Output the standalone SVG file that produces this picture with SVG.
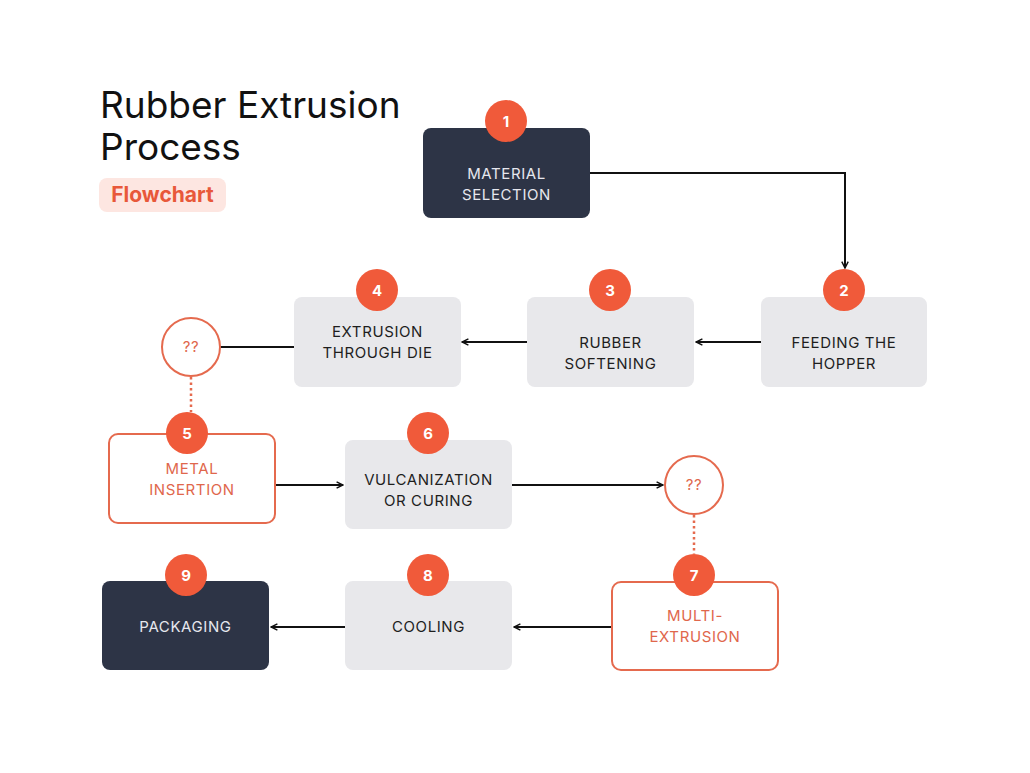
<svg xmlns="http://www.w3.org/2000/svg" width="1030" height="773" viewBox="0 0 1030 773">
<defs>
<marker id="arr" viewBox="0 0 10 10" refX="9" refY="5" markerWidth="8" markerHeight="8" markerUnits="userSpaceOnUse" orient="auto">
<path d="M1,1 L9,5 L1,9" fill="none" stroke="#111" stroke-width="1.8"/>
</marker>
</defs>
<style>
.dark{fill:#2d3446}
.light{fill:#e8e8eb}
.out{fill:#fff;stroke:#e56a4e;stroke-width:2}
.badge{fill:#f05a3a}
.bt{font-family:Inter,"Liberation Sans",sans-serif;font-weight:700;font-size:15px;fill:#fff;text-anchor:middle}
.lbl{font-family:Inter,"Liberation Sans",sans-serif;font-size:15px;letter-spacing:0.6px;text-anchor:middle}
.ld{fill:#e6e7ee}
.ll{fill:#1e1e1e}
.lo{fill:#e0674c}
.c{fill:none;stroke:#111;stroke-width:2}
.dot{fill:none;stroke:#e56a4e;stroke-width:2.5;stroke-dasharray:2.5 3}
</style>
<rect width="1030" height="773" fill="#fff"/>
<g id="title">
<text x="100" y="118" font-family="Inter,'Liberation Sans',sans-serif" font-size="37" fill="#111">Rubber Extrusion</text>
<text x="100" y="160" font-family="Inter,'Liberation Sans',sans-serif" font-size="37" fill="#111">Process</text>
<rect x="99" y="178" width="127" height="34" rx="8" fill="#fde6e1"/>
<text x="162.5" y="202" font-family="Inter,'Liberation Sans',sans-serif" font-size="21" font-weight="700" fill="#e8583a" text-anchor="middle">Flowchart</text>
</g>
<g id="connectors">
<path class="c" d="M590,173 H845 V268" marker-end="url(#arr)"/>
<path class="c" d="M761,342 H696" marker-end="url(#arr)"/>
<path class="c" d="M527,342 H462" marker-end="url(#arr)"/>
<path class="c" d="M294,347 H220"/>
<path class="dot" d="M191,377 V412"/>
<path class="c" d="M275,485 H343" marker-end="url(#arr)"/>
<path class="c" d="M512,485 H663" marker-end="url(#arr)"/>
<path class="dot" d="M694,515 V554"/>
<path class="c" d="M611,627 H514" marker-end="url(#arr)"/>
<path class="c" d="M345,627 H271" marker-end="url(#arr)"/>
</g>
<g id="n1">
<rect class="dark" x="423" y="128" width="167" height="90" rx="8"/>
<circle class="badge" cx="506" cy="121" r="21"/><text class="bt" x="506" y="126.5">1</text>
<text class="lbl ld" x="506.5" y="179">MATERIAL</text><text class="lbl ld" x="506.5" y="200">SELECTION</text>
</g>
<g id="n2">
<rect class="light" x="761" y="297" width="166" height="90" rx="8"/>
<circle class="badge" cx="844" cy="290" r="21"/><text class="bt" x="844" y="295.5">2</text>
<text class="lbl ll" x="844" y="348">FEEDING THE</text><text class="lbl ll" x="844" y="369">HOPPER</text>
</g>
<g id="n3">
<rect class="light" x="527" y="297" width="167" height="90" rx="8"/>
<circle class="badge" cx="610" cy="290" r="21"/><text class="bt" x="610" y="295.5">3</text>
<text class="lbl ll" x="610.5" y="348">RUBBER</text><text class="lbl ll" x="610.5" y="369">SOFTENING</text>
</g>
<g id="n4">
<rect class="light" x="294" y="297" width="167" height="90" rx="8"/>
<circle class="badge" cx="377" cy="290" r="21"/><text class="bt" x="377" y="295.5">4</text>
<text class="lbl ll" x="377.5" y="337">EXTRUSION</text><text class="lbl ll" x="377.5" y="358">THROUGH DIE</text>
</g>
<g id="q1">
<circle class="out" cx="191" cy="347" r="29"/>
<text class="lbl lo" x="191" y="352">??</text>
</g>
<g id="n5">
<rect class="out" x="109" y="434" width="166" height="89" rx="9"/>
<circle class="badge" cx="187" cy="433" r="21"/><text class="bt" x="187" y="438.5">5</text>
<text class="lbl lo" x="192" y="474">METAL</text><text class="lbl lo" x="192" y="495">INSERTION</text>
</g>
<g id="n6">
<rect class="light" x="345" y="440" width="167" height="89" rx="8"/>
<circle class="badge" cx="428" cy="433" r="21"/><text class="bt" x="428" y="438.5">6</text>
<text class="lbl ll" x="428.5" y="485">VULCANIZATION</text><text class="lbl ll" x="428.5" y="506">OR CURING</text>
</g>
<g id="q2">
<circle class="out" cx="694" cy="485" r="29"/>
<text class="lbl lo" x="694" y="490">??</text>
</g>
<g id="n7">
<rect class="out" x="612" y="582" width="166" height="88" rx="9"/>
<circle class="badge" cx="694" cy="575" r="21"/><text class="bt" x="694" y="580.5">7</text>
<text class="lbl lo" x="695" y="621">MULTI-</text><text class="lbl lo" x="695" y="642">EXTRUSION</text>
</g>
<g id="n8">
<rect class="light" x="345" y="581" width="167" height="89" rx="8"/>
<circle class="badge" cx="428" cy="575" r="21"/><text class="bt" x="428" y="580.5">8</text>
<text class="lbl ll" x="428.5" y="632">COOLING</text>
</g>
<g id="n9">
<rect class="dark" x="102" y="581" width="167" height="89" rx="8"/>
<circle class="badge" cx="186" cy="575" r="21"/><text class="bt" x="186" y="580.5">9</text>
<text class="lbl ld" x="185.5" y="632">PACKAGING</text>
</g>
</svg>
